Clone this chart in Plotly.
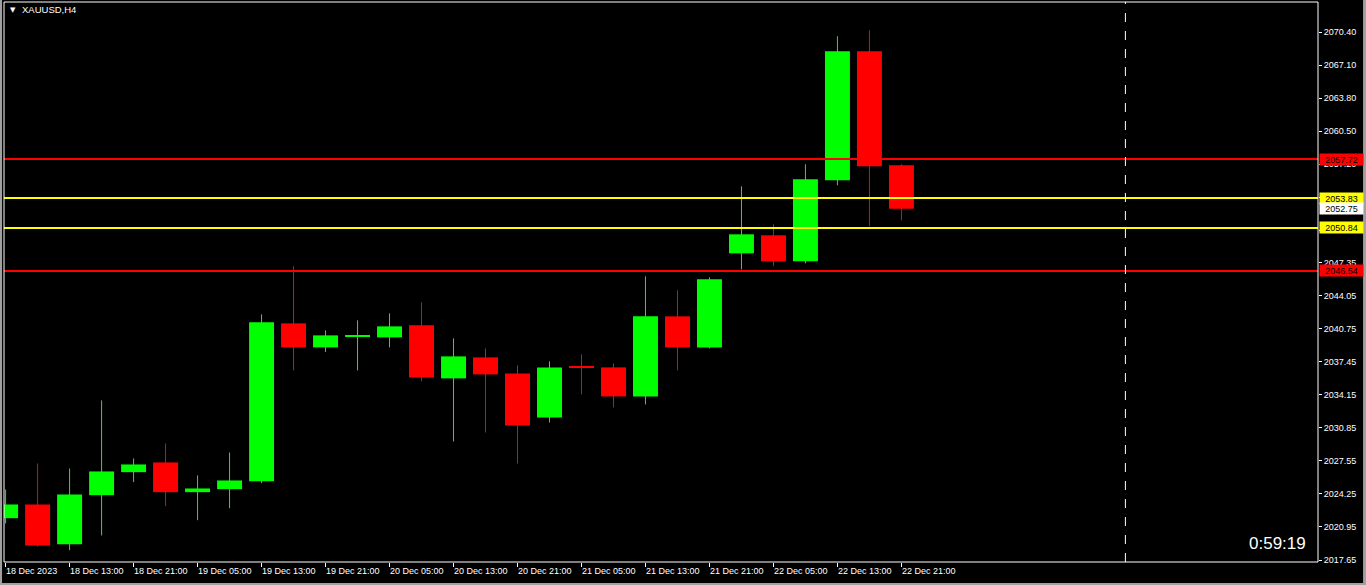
import plotly.graph_objects as go

# ---------------- data ----------------
opens  = [2021.83, 2023.20, 2019.23, 2024.13, 2026.43, 2027.40, 2024.43, 2024.73, 2025.53, 2041.30,
          2038.90, 2039.98, 2039.90, 2041.10, 2035.80, 2037.90, 2036.30, 2031.90, 2036.90, 2036.90,
          2034.00, 2042.00, 2038.90, 2048.30, 2050.10, 2047.50, 2055.60, 2068.50, 2057.10]
closes = [2023.20, 2019.10, 2024.20, 2026.50, 2027.20, 2024.43, 2024.80, 2025.60, 2041.40, 2038.90,
          2040.10, 2040.05, 2041.00, 2035.90, 2038.00, 2036.20, 2031.10, 2036.90, 2036.85, 2034.00,
          2042.00, 2038.90, 2045.70, 2050.20, 2047.50, 2055.70, 2068.50, 2057.00, 2052.75]
highs  = [2024.70, 2027.30, 2026.80, 2033.60, 2027.80, 2029.30, 2026.10, 2028.40, 2042.20, 2047.00,
          2040.60, 2041.60, 2042.30, 2043.40, 2039.80, 2038.80, 2037.10, 2037.50, 2038.20, 2037.30,
          2046.00, 2044.60, 2045.90, 2055.00, 2051.20, 2057.20, 2070.00, 2070.60, 2057.20]
lows   = [2021.30, 2019.00, 2018.63, 2020.10, 2025.43, 2023.03, 2021.63, 2022.83, 2025.33, 2036.60,
          2038.43, 2036.60, 2038.90, 2035.50, 2029.50, 2030.40, 2027.30, 2031.40, 2034.20, 2032.90,
          2033.20, 2036.60, 2038.80, 2046.70, 2047.00, 2047.30, 2055.10, 2051.00, 2051.60]

x_tick_labels = ["18 Dec 2023", "18 Dec 13:00", "18 Dec 21:00", "19 Dec 05:00", "19 Dec 13:00",
                 "19 Dec 21:00", "20 Dec 05:00", "20 Dec 13:00", "20 Dec 21:00", "21 Dec 05:00",
                 "21 Dec 13:00", "21 Dec 21:00", "22 Dec 05:00", "22 Dec 13:00", "22 Dec 21:00"]
x_tick_every = 2

y_tick_labels = ["2070.40", "2067.10", "2063.80", "2060.50", "2057.20", "2053.90", "2050.60",
                 "2047.35", "2044.05", "2040.75", "2037.45", "2034.15", "2030.85", "2027.55",
                 "2024.25", "2020.95", "2017.65"]

red_levels = [2057.72, 2046.54]
yellow_levels = [2053.83, 2050.84]
current_price = 2052.75
vline_index = 35
symbol_label = "XAUUSD,H4"
timer_text = "0:59:19"

# ---------------- style ----------------
UP = "#00FF00"
DOWN = "#FF0000"
YELLOW = "#FFFF00"
FONT = "Liberation Sans"
TICK_SIZE = 9
BODY_W = 0.78
MIN_BODY = 0.1

n = len(opens)
idx = list(range(n))
up = [c >= o for o, c in zip(opens, closes)]

fig = go.Figure()

# wicks
for flag, col in ((True, UP), (False, DOWN)):
    xs, ys = [], []
    for i in idx:
        if up[i] == flag:
            xs += [i, i, None]
            ys += [lows[i], highs[i], None]
    fig.add_trace(go.Scatter(x=xs, y=ys, mode="lines", line=dict(color=col, width=1),
                             hoverinfo="skip", showlegend=False))

# bodies
bases = [min(o, c) for o, c in zip(opens, closes)]
heights = [max(abs(c - o), MIN_BODY) for o, c in zip(opens, closes)]
fig.add_trace(go.Bar(x=idx, y=heights, base=bases, width=BODY_W,
                     marker=dict(color=[UP if u else DOWN for u in up], line=dict(width=0)),
                     hoverinfo="skip", showlegend=False))

shapes = []
for lv in red_levels:
    shapes.append(dict(type="line", xref="paper", x0=0, x1=1, yref="y", y0=lv, y1=lv,
                       line=dict(color=DOWN, width=2), layer="above"))
for lv in yellow_levels:
    shapes.append(dict(type="line", xref="paper", x0=0, x1=1, yref="y", y0=lv, y1=lv,
                       line=dict(color=YELLOW, width=2), layer="above"))
shapes.append(dict(type="line", xref="x", x0=vline_index, x1=vline_index, yref="paper", y0=0, y1=1,
                   line=dict(color="#FFFFFF", width=1, dash="dash")))
# frame
shapes.append(dict(type="rect", xref="paper", yref="paper", x0=0, x1=1, y0=0, y1=1,
                   line=dict(color="#FFFFFF", width=1), layer="above"))
# outer grey window border
g = "#A0A0A0"
shapes += [
    dict(type="rect", xref="paper", yref="paper", x0=-0.0031, x1=-0.0015, y0=-0.05, y1=1.01,
         fillcolor=g, line=dict(width=0)),
    dict(type="rect", xref="paper", yref="paper", x0=1.0343, x1=1.04, y0=-0.05, y1=1.01,
         fillcolor=g, line=dict(width=0)),
    dict(type="rect", xref="paper", yref="paper", x0=-0.01, x1=1.04, y0=-0.05, y1=-0.0375,
         fillcolor=g, line=dict(width=0)),
]

annotations = []
def price_box(val, bg):
    annotations.append(dict(xref="paper", x=1, xanchor="left", xshift=1, yref="y", y=val,
                            yanchor="middle", text=f"{val:.2f}", showarrow=False,
                            bgcolor=bg, font=dict(family=FONT, size=TICK_SIZE, color="#000000"),
                            width=43, height=11, borderpad=0, align="center"))
for lv in red_levels:
    price_box(lv, DOWN)
for lv in yellow_levels:
    price_box(lv, YELLOW)
price_box(current_price, "#FFFFFF")

annotations.append(dict(xref="paper", yref="paper", x=0.003, y=0.9865, xanchor="left", yanchor="middle",
                        text="▼", showarrow=False, font=dict(family="DejaVu Sans", size=7, color="#FFFFFF")))
annotations.append(dict(xref="paper", yref="paper", x=0.0122, y=0.9865, xanchor="left", yanchor="middle",
                        text=symbol_label, showarrow=False, font=dict(family=FONT, size=9.5, color="#FFFFFF")))
annotations.append(dict(xref="paper", yref="paper", x=0.9924, y=0.033, xanchor="right", yanchor="middle",
                        text=timer_text, showarrow=False, font=dict(family=FONT, size=17, color="#FFFFFF")))

y_tick_vals = [float(t) for t in y_tick_labels]
x_tick_vals = list(range(0, len(x_tick_labels) * x_tick_every, x_tick_every))

fig.update_layout(
    width=1366, height=585,
    margin=dict(l=4, r=48, t=2, b=23, pad=0, autoexpand=False),
    paper_bgcolor="#000000", plot_bgcolor="#000000",
    barmode="overlay", hovermode=False, showlegend=False,
    shapes=shapes, annotations=annotations,
    xaxis=dict(range=[-0.05, 41.02], showgrid=False, zeroline=False, showline=False,
               tickmode="array", tickvals=x_tick_vals, ticktext=x_tick_labels,
               ticks="outside", ticklen=4, tickcolor="#FFFFFF", tickwidth=1,
               ticklabelposition="outside right", tickangle=0, automargin=False,
               tickfont=dict(family=FONT, size=TICK_SIZE, color="#FFFFFF"), fixedrange=True),
    yaxis=dict(range=[2017.45, 2073.42], side="right", showgrid=False, zeroline=False, showline=False,
               tickmode="array", tickvals=y_tick_vals, ticktext=y_tick_labels, automargin=False,
               ticks="outside", ticklen=3, tickcolor="#FFFFFF", tickwidth=1,
               tickfont=dict(family=FONT, size=TICK_SIZE, color="#FFFFFF"), fixedrange=True),
)

fig.write_html("out.html", config={"displayModeBar": False},
               post_script="document.body.style.margin='0px';document.body.style.overflow='hidden';")
